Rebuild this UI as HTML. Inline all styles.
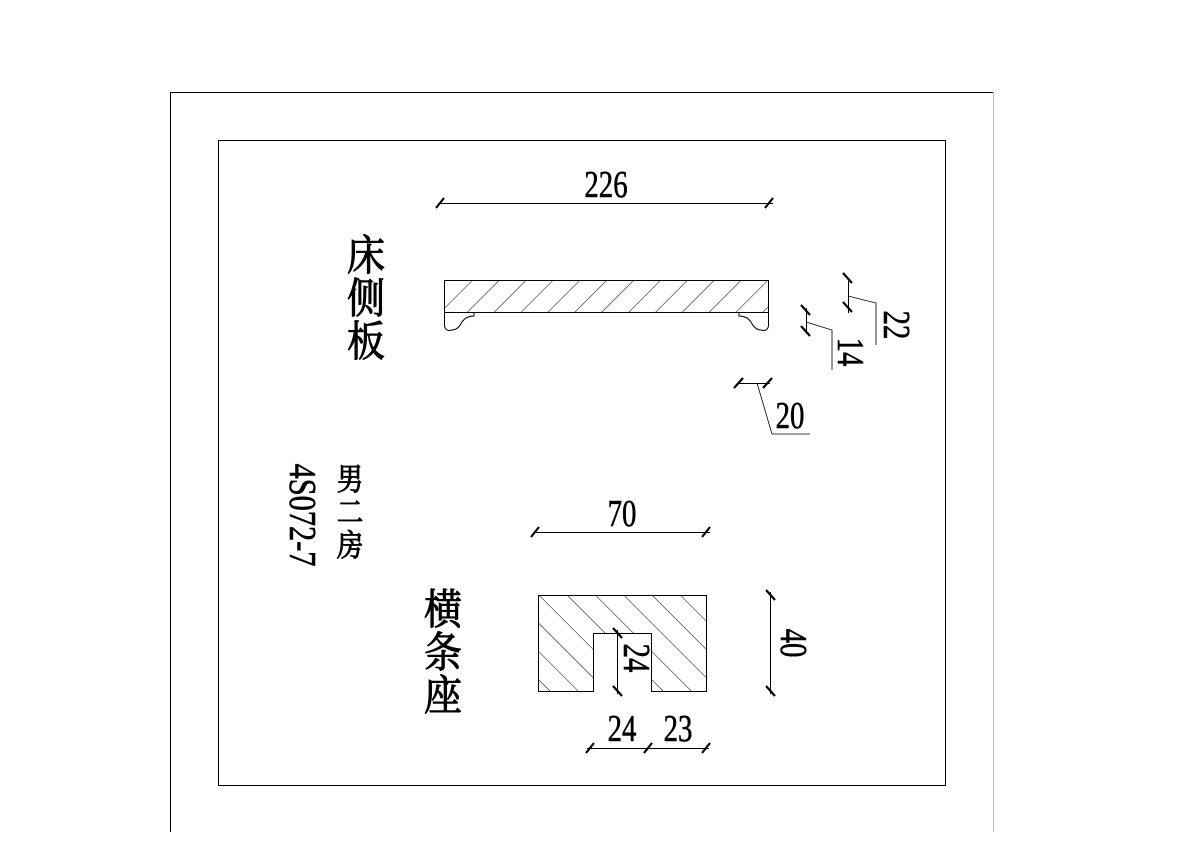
<!DOCTYPE html>
<html><head><meta charset="utf-8"><style>
html,body{margin:0;padding:0;background:#fff;}
svg{display:block}
text{font-family:"Liberation Serif","Noto Serif CJK SC",serif;fill:#000;stroke:#000;stroke-width:0.5}
.c{font-family:"Noto Serif CJK SC","Noto Sans CJK SC",serif;stroke-width:0.9}
</style></head><body>
<svg width="1191" height="842" viewBox="0 0 1191 842" xmlns="http://www.w3.org/2000/svg">
<defs>
<pattern id="h1" patternUnits="userSpaceOnUse" width="19" height="19" patternTransform="rotate(45)">
<line x1="0" y1="0" x2="0" y2="19" stroke="#000" stroke-width="1"/></pattern>
<pattern id="h2" patternUnits="userSpaceOnUse" width="20" height="20" patternTransform="rotate(-45)">
<line x1="0" y1="0" x2="0" y2="20" stroke="#000" stroke-width="1"/></pattern>
</defs>
<g fill="none" stroke="#000" stroke-width="1">
<line x1="170" y1="92.5" x2="993" y2="92.5"/>
<line x1="170.5" y1="92" x2="170.5" y2="832"/>
<line x1="993.5" y1="92" x2="993.5" y2="832" stroke="#bbb"/>
<rect x="218.5" y="140.5" width="727" height="645"/>
</g>
<rect x="444.5" y="280.5" width="324" height="32" fill="url(#h1)" stroke="#000"/>
<g fill="#fff" stroke="#000" stroke-width="1">
<path d="M444.5 312.5 L474 312.5 L474 316 Q466 316 462 322 Q458 330 452 330 Q446 332 444.5 326 Z"/>
<path d="M768.5 312.5 L739 312.5 L739 316 Q747 316 751 322 Q755 330 761 330 Q767 332 768.5 326 Z"/>
</g>
<line x1="444" y1="312.5" x2="769" y2="312.5" stroke="#000"/>
<path d="M538.5 595.5 H706.5 V691.5 H651.5 V633.5 H593.5 V691.5 H538.5 Z" fill="url(#h2)" stroke="#000"/>
<g stroke="#000" stroke-width="1" fill="none">
<line x1="440" y1="203.5" x2="773" y2="203.5"/>
<line x1="535" y1="532.5" x2="710" y2="532.5"/>
<line x1="770.5" y1="592" x2="770.5" y2="694"/>
<line x1="617.5" y1="630" x2="617.5" y2="694"/>
<line x1="587" y1="748.5" x2="709" y2="748.5"/>
<line x1="848.5" y1="281" x2="848.5" y2="313"/>
<polyline points="848,296 876,303 876,345" stroke-width="0.8"/>
<line x1="806.5" y1="308" x2="806.5" y2="334"/>
<polyline points="806,322 832,330 832,370" stroke-width="0.8"/>
<line x1="737" y1="383.5" x2="770" y2="383.5"/>
<polyline points="757,383 772,434 810,434" stroke-width="0.8"/>
</g>
<g stroke="#000" stroke-width="2.2">
<line x1="436" y1="208" x2="444" y2="198"/><line x1="765" y1="208" x2="773" y2="198"/>
<line x1="531" y1="537" x2="539" y2="527"/><line x1="702" y1="537" x2="710" y2="527"/>
<line x1="766" y1="590" x2="775" y2="600"/><line x1="766" y1="686" x2="775" y2="696"/>
<line x1="613" y1="628" x2="622" y2="638"/><line x1="613" y1="686" x2="622" y2="696"/>
<line x1="586" y1="753" x2="594" y2="743"/><line x1="644" y1="753" x2="652" y2="743"/><line x1="702" y1="753" x2="710" y2="743"/>
<line x1="843" y1="273" x2="852" y2="283"/><line x1="843" y1="302" x2="852" y2="312"/>
<line x1="801" y1="305" x2="810" y2="315"/><line x1="801" y1="326" x2="810" y2="336"/>
<line x1="734" y1="388" x2="743" y2="378"/><line x1="763" y1="388" x2="772" y2="378"/>
</g>
<g font-size="32" text-anchor="middle">
<text transform="translate(606,197) scale(0.9,1.2)">226</text>
<text transform="translate(622,526) scale(0.9,1.2)">70</text>
<text transform="translate(790,428) scale(0.9,1.2)">20</text>
<text transform="translate(622,741) scale(0.9,1.2)">24</text>
<text transform="translate(678,741) scale(0.9,1.2)">23</text>
</g>
<g font-size="32" text-anchor="middle">
<text transform="translate(884,325) rotate(90) scale(0.9,1.2)">22</text>
<text transform="translate(838,352) rotate(90) scale(0.9,1.2)">14</text>
<text transform="translate(781,643) rotate(90) scale(0.9,1.2)">40</text>
<text transform="translate(624,658) rotate(90) scale(0.9,1.2)">24</text>
<text transform="translate(290,515) rotate(90) scale(0.95,1.2)">4S072-7</text>
</g>
<g font-size="38" text-anchor="middle">
<text class="c" transform="translate(366,270) scale(1,1.1)">床</text>
<text class="c" transform="translate(366,313) scale(1,1.1)">侧</text>
<text class="c" transform="translate(366,356) scale(1,1.1)">板</text>
<text class="c" transform="translate(443,624) scale(1,1.1)">横</text>
<text class="c" transform="translate(443,667) scale(1,1.1)">条</text>
<text class="c" transform="translate(443,710) scale(1,1.1)">座</text>
</g>
<g font-size="28" text-anchor="middle">
<text class="c" transform="translate(350,490) scale(0.95,1.1)">男</text>
<text class="c" transform="translate(350,523) scale(0.95,1.1)">二</text>
<text class="c" transform="translate(350,556) scale(0.95,1.1)">房</text>
</g>
</svg>
</body></html>
